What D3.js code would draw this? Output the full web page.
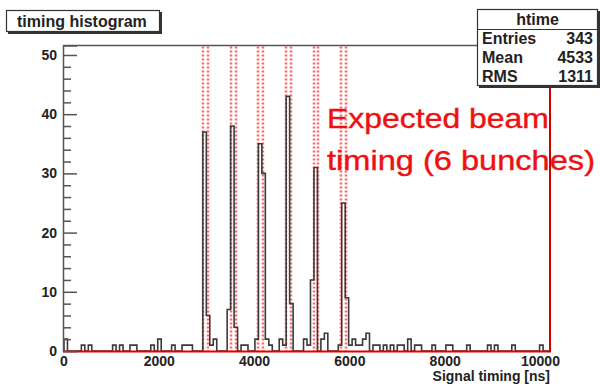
<!DOCTYPE html>
<html><head><meta charset="utf-8">
<script src="https://cdn.jsdelivr.net/npm/d3@7"></script>
<style>
html,body{margin:0;padding:0;background:#fff;}
svg{display:block;}
text{font-family:"Liberation Sans",Arial,sans-serif;}
</style></head>
<body><div id="chart"></div>
<script>
// ---- data ----
const xTicks = [0, 2000, 4000, 6000, 8000, 10000];
const yTicks = [0, 10, 20, 30, 40, 50];
const xRange = [0, 10200];
const nBins = 140;
const binIndex  = [0,5,7,14,16,19,20,25,27,31,34,35,36,
  40,41,42,43, 47,48,49,51,52,55, 56,57,58,59, 62,63,64,65,
  69,70,71,72,74,75, 79,80,81,82,83,84,85,86,87,89,90,92,94,96,97,99,
  101,102,106,110,111,116,122,124,129,137];
const binCounts = [2,1,1,1,1,1,1,1,2,1,1,1,1,
  37,6,1,2, 7,38,4,1,1,2, 35,30,2,1, 2,1,43,8,
  2,1,12,31,2,3, 1,25,9,1,2,1,1,2,3,1,1,1,1,1,1,2,
  1,1,1,1,1,1,1,1,1,1];
const bunchStart = [2917, 3505, 4071, 4659, 5247, 5813];
const bunchEnd   = [3022, 3610, 4176, 4764, 5331, 5918];
const statLabels = ["Entries", "Mean", "RMS"];
const statValues = ["343", "4533", "1311"];
const histName = "htime";
const titleText = "timing histogram";
const xTitle = "Signal timing [ns]";
const annotLines = ["Expected beam", "timing (6 bunches)"];

// ---- layout ----
const W = 600, H = 387;
const L = 64, R = 550, T = 45.5, B = 351;
const svg = d3.select("#chart").append("svg").attr("width", W).attr("height", H);

const x = d3.scaleLinear().domain(xRange).range([L, R]);
const y = d3.scaleLinear().domain([0, 51.6]).range([B, T]);

const counts = new Array(nBins).fill(0);
binIndex.forEach((b, i) => { counts[b] = binCounts[i]; });
const bw = (xRange[1] - xRange[0]) / nBins;

// frame top
svg.append("line").attr("x1", L - 1).attr("x2", R).attr("y1", T).attr("y2", T)
  .attr("stroke", "#555").attr("stroke-width", 1.5);

// red dashed bunch windows
const bunchG = svg.append("g");
bunchStart.forEach((s, i) => {
  [s, bunchEnd[i]].forEach(v => {
    bunchG.append("line").attr("x1", x(v)).attr("x2", x(v)).attr("y1", T + 1).attr("y2", B)
      .attr("stroke", "#ff4040").attr("stroke-width", 2.5).attr("stroke-dasharray", "2,2")
      .attr("opacity", 0.8);
  });
});

// histogram step path
let p = `M${x(0)},${y(0)}`;
counts.forEach((c, i) => {
  p += `L${x(i * bw)},${y(c)}L${x((i + 1) * bw)},${y(c)}`;
});
p += `L${x(nBins * bw)},${y(0)}`;
svg.append("path").attr("d", p).attr("fill", "none")
  .attr("stroke", "#3a3a3a").attr("stroke-width", 1.6).attr("stroke-linejoin", "miter");

// red bottom & right frame
svg.append("line").attr("x1", L - 1).attr("x2", R + 1).attr("y1", B + 0.5).attr("y2", B + 0.5)
  .attr("stroke", "#e00000").attr("stroke-width", 2);
svg.append("line").attr("x1", R).attr("x2", R).attr("y1", T).attr("y2", B + 1)
  .attr("stroke", "#cc0000").attr("stroke-width", 2);

// y axis
const yAxis = d3.axisRight(y).tickValues(yTicks).tickSize(14).tickFormat("");
const yG = svg.append("g").attr("transform", `translate(${L - 1},0)`).call(yAxis);
yG.select(".domain").attr("stroke", "#555").attr("stroke-width", 1.5);
yG.selectAll(".tick line").attr("stroke", "#555").attr("stroke-width", 1.5);
const minor = d3.range(0, 52, 2).filter(v => v % 10 !== 0);
const yMinor = d3.axisRight(y).tickValues(minor).tickSize(8).tickFormat("");
const ymG = svg.append("g").attr("transform", `translate(${L - 1},0)`).call(yMinor);
ymG.select(".domain").remove();
ymG.selectAll(".tick line").attr("stroke", "#555").attr("stroke-width", 1.5);
svg.append("g").selectAll("text").data(yTicks).join("text")
  .attr("x", 57).attr("y", d => y(d) + 5).attr("text-anchor", "end")
  .attr("font-size", 14).attr("font-weight", "bold").attr("fill", "#222").text(d => d);

// x labels
svg.append("g").selectAll("text").data(xTicks).join("text")
  .attr("x", d => x(d)).attr("y", 366).attr("text-anchor", "middle")
  .attr("font-size", 14).attr("font-weight", "bold").attr("fill", "#222").text(d => d);
svg.append("text").attr("x", 550).attr("y", 381).attr("text-anchor", "end")
  .attr("font-size", 14).attr("font-weight", "bold").attr("fill", "#222").text(xTitle);

// title box
svg.append("rect").attr("x", 8).attr("y", 12).attr("width", 154).attr("height", 22).attr("fill", "#333");
svg.append("rect").attr("x", 6.5).attr("y", 10.5).attr("width", 153).attr("height", 21)
  .attr("fill", "#fff").attr("stroke", "#333").attr("stroke-width", 1.2);
svg.append("text").attr("x", 17).attr("y", 26.5).attr("font-size", 16).attr("font-weight", "bold")
  .attr("fill", "#222").text(titleText);

// stats box
svg.append("rect").attr("x", 479).attr("y", 11).attr("width", 121).attr("height", 77).attr("fill", "#333");
svg.append("rect").attr("x", 477.5).attr("y", 9.5).attr("width", 120).attr("height", 76)
  .attr("fill", "#fff").attr("stroke", "#333").attr("stroke-width", 1.2);
svg.append("line").attr("x1", 477.5).attr("x2", 597.5).attr("y1", 29.5).attr("y2", 29.5)
  .attr("stroke", "#333").attr("stroke-width", 1.2);
svg.append("text").attr("x", 537.5).attr("y", 25).attr("text-anchor", "middle")
  .attr("font-size", 16).attr("font-weight", "bold").attr("fill", "#222").text(histName);
statLabels.forEach((l, i) => {
  svg.append("text").attr("x", 482).attr("y", 43.5 + i * 19.2).attr("font-size", 16)
    .attr("font-weight", "bold").attr("fill", "#222").text(l);
  svg.append("text").attr("x", 593).attr("y", 43.5 + i * 19.2).attr("text-anchor", "end")
    .attr("font-size", 16).attr("font-weight", "bold").attr("fill", "#222").text(statValues[i]);
});

// annotation
const annW = [222, 268];
annotLines.forEach((t, i) => {
  svg.append("text").attr("x", 327).attr("y", 128 + i * 42)
    .attr("font-family", "'Open Sans', 'Noto Sans', sans-serif").attr("font-size", 28)
    .attr("fill", "#ee1111").attr("stroke", "#ee1111").attr("stroke-width", 0.4)
    .attr("textLength", annW[i]).attr("lengthAdjust", "spacingAndGlyphs")
    .text(t);
});
</script></body></html>
